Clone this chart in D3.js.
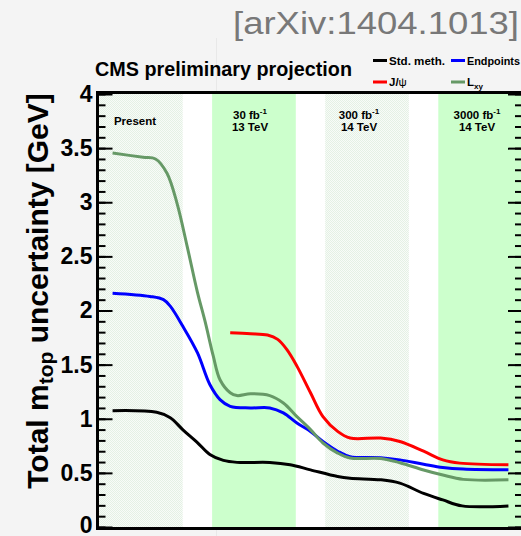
<!DOCTYPE html>
<html>
<head>
<meta charset="utf-8">
<script src="https://cdn.jsdelivr.net/npm/d3@7/dist/d3.min.js"></script>
<style>
  html, body { margin: 0; padding: 0; background: #f4f4f4; }
  svg { display: block; }
  text { font-family: "Liberation Sans", Arial, Helvetica, sans-serif; }
</style>
</head>
<body>
<script>
// ---------------- data ----------------
// x is a "stage" coordinate: Present=0, 30 fb-1=1, 300 fb-1=2, 3000 fb-1=3
const stdMeth = [[0.12,1.075],[0.51,1.06],[0.63,1.01],[0.74,0.90],[0.87,0.78],[0.98,0.67],[1.10,0.615],[1.22,0.597],[1.51,0.596],[1.69,0.575],[1.87,0.528],[2.11,0.466],[2.22,0.45],[2.49,0.436],[2.66,0.405],[2.87,0.31],[3.04,0.25],[3.21,0.195],[3.62,0.195]];
const endpoints = [[0.12,2.16],[0.45,2.13],[0.57,2.10],[0.63,2.04],[0.74,1.856],[0.87,1.61],[0.98,1.316],[1.07,1.177],[1.16,1.115],[1.34,1.10],[1.51,1.10],[1.63,1.054],[1.75,0.96],[1.87,0.883],[1.98,0.79],[2.11,0.70],[2.22,0.65],[2.49,0.64],[2.66,0.62],[2.87,0.58],[3.04,0.55],[3.22,0.535],[3.62,0.528]];
const jpsi = [[1.16,1.795],[1.34,1.786],[1.49,1.773],[1.58,1.733],[1.66,1.64],[1.75,1.486],[1.87,1.24],[1.98,1.02],[2.11,0.883],[2.22,0.822],[2.49,0.822],[2.66,0.79],[2.87,0.70],[3.04,0.62],[3.19,0.59],[3.62,0.575]];
const lxy = [[0.12,3.455],[0.39,3.415],[0.50,3.40],[0.60,3.27],[0.69,2.99],[0.78,2.59],[0.87,2.17],[0.94,1.89],[1.01,1.58],[1.07,1.36],[1.16,1.24],[1.22,1.214],[1.34,1.23],[1.51,1.214],[1.63,1.146],[1.75,1.02],[1.87,0.90],[1.98,0.776],[2.11,0.683],[2.22,0.637],[2.49,0.633],[2.66,0.594],[2.87,0.527],[3.04,0.48],[3.22,0.44],[3.62,0.436]];

const seriesNames = ["Std. meth.", "Endpoints", "J/\u03c8", "Lxy"];
const seriesColors = ["#000000", "#0000ff", "#ff0000", "#669966"];

const bandStarts = [0, 1, 2, 3];
const bandWidth = 0.74;
const bandKinds = ["pale", "green", "pale", "green"];
const bandLine1 = ["Present", "30 fb", "300 fb", "3000 fb"];
const bandSup = ["", "-1", "-1", "-1"];
const bandLine2 = ["", "13 TeV", "14 TeV", "14 TeV"];

const yMajorTicks = [0, 0.5, 1, 1.5, 2, 2.5, 3, 3.5, 4];
const yTickLabels = ["0", "0.5", "1", "1.5", "2", "2.5", "3", "3.5", "4"];

// ---------------- layout ----------------
const W = 521, H = 536;
const L = 99, R = 522, T = 94, B = 527;

const svg = d3.select("body").append("svg").attr("width", W).attr("height", H);
svg.append("rect").attr("width", W).attr("height", H).attr("fill", "#f4f4f4");

const defs = svg.append("defs");
const pat = defs.append("pattern").attr("id", "pale").attr("patternUnits", "userSpaceOnUse")
  .attr("width", 2).attr("height", 2);
pat.append("rect").attr("width", 2).attr("height", 2).attr("fill", "#f8fbf8");
pat.append("rect").attr("x", 0).attr("y", 0).attr("width", 1).attr("height", 1).attr("fill", "#e4f1e4");
pat.append("rect").attr("x", 1).attr("y", 1).attr("width", 1).attr("height", 1).attr("fill", "#e4f1e4");

const x = d3.scaleLinear().domain([0, 3.74]).range([L, R]);
const y = d3.scaleLinear().domain([0, 4]).range([B, T]);

// faint artifact line outside plot
svg.append("line").attr("x1", 216.5).attr("x2", 216.5).attr("y1", 38).attr("y2", 91).attr("stroke", "#e8e8e8");
svg.append("line").attr("x1", 216.5).attr("x2", 216.5).attr("y1", 530).attr("y2", 536).attr("stroke", "#e8e8e8");

// plot background
svg.append("rect").attr("x", L).attr("y", 92).attr("width", R - L).attr("height", B - 92 + 1).attr("fill", "#ffffff");

// bands
svg.append("g").selectAll("rect").data(bandStarts).join("rect")
  .attr("x", d => x(d))
  .attr("y", 92)
  .attr("width", d => x(d + bandWidth) - x(d))
  .attr("height", B - 92 + 1)
  .attr("fill", (d, i) => bandKinds[i] === "green" ? "#ccffcc" : "url(#pale)");

// band labels
const labelCenters = [135, 250, 359, 477];
const lab = svg.append("g").attr("font-weight", "bold").attr("font-size", 11.5).attr("text-anchor", "middle");
bandStarts.forEach((d, i) => {
  if (bandLine2[i] === "") {
    lab.append("text").attr("x", labelCenters[i]).attr("y", 124.5).text(bandLine1[i]);
  } else {
    const t = lab.append("text").attr("x", labelCenters[i]).attr("y", 119);
    t.append("tspan").text(bandLine1[i]);
    t.append("tspan").attr("font-size", 8).attr("dy", -5).text(bandSup[i]);
    lab.append("text").attr("x", labelCenters[i]).attr("y", 131).text(bandLine2[i]);
  }
});

// curves
const line = d3.line().x(d => x(d[0])).y(d => y(d[1])).curve(d3.curveCatmullRom.alpha(0.5));
const allSeries = [stdMeth, endpoints, jpsi, lxy];
const drawOrder = [0, 2, 1, 3];
drawOrder.forEach(i => {
  svg.append("path").datum(allSeries[i]).attr("d", line)
    .attr("fill", "none").attr("stroke", seriesColors[i]).attr("stroke-width", 3)
    .attr("stroke-linejoin", "round");
});

// axes
const gL = svg.append("g").attr("transform", `translate(${L - 0.5},0)`)
  .call(d3.axisLeft(y).tickValues(yMajorTicks).tickFormat((d, i) => yTickLabels[i]).tickSize(-14).tickPadding(6));
const gLm = svg.append("g").attr("transform", `translate(${L - 0.5},0)`)
  .call(d3.axisLeft(y).ticks(40).tickFormat("").tickSize(-7));
const gR = svg.append("g").attr("transform", `translate(${R},0)`)
  .call(d3.axisRight(y).tickValues(yMajorTicks).tickFormat("").tickSize(-14));
const gRm = svg.append("g").attr("transform", `translate(${R},0)`)
  .call(d3.axisRight(y).ticks(40).tickFormat("").tickSize(-7));
[gL, gLm, gR, gRm].forEach(g => {
  g.select(".domain").remove();
  g.selectAll(".tick line").attr("stroke", "#000").attr("stroke-width", 2);
});
gL.selectAll(".tick text").attr("font-size", 23).attr("font-weight", "bold").attr("fill", "#000")
  .attr("font-family", "'Liberation Sans', Arial, sans-serif");
gL.selectAll(".tick").filter(d => d === 0).select("text").attr("dy", "0.22em");

// frame
svg.append("line").attr("x1", L - 1.5).attr("x2", L - 1.5).attr("y1", 91).attr("y2", 530).attr("stroke", "#000").attr("stroke-width", 3);
svg.append("line").attr("x1", L - 3).attr("x2", W).attr("y1", 92.5).attr("y2", 92.5).attr("stroke", "#000").attr("stroke-width", 3);
svg.append("line").attr("x1", L - 3).attr("x2", W).attr("y1", 528.5).attr("y2", 528.5).attr("stroke", "#000").attr("stroke-width", 3);

// y title
const yt = svg.append("text").attr("transform", "translate(48,291) rotate(-90)")
  .attr("text-anchor", "middle").attr("font-weight", "bold").attr("font-size", 30).attr("fill", "#000");
yt.append("tspan").text("Total m");
yt.append("tspan").attr("font-size", 21).attr("dy", 5).text("top");
yt.append("tspan").attr("dy", -5).text(" uncertainty [GeV]");

// titles
svg.append("text").attr("x", 233).attr("y", 34).attr("font-size", 31).attr("fill", "#787878")
  .attr("textLength", 286).attr("lengthAdjust", "spacingAndGlyphs").text("[arXiv:1404.1013]");
svg.append("text").attr("x", 95).attr("y", 76).attr("font-size", 19.5).attr("font-weight", "bold")
  .attr("textLength", 257).attr("lengthAdjust", "spacingAndGlyphs").text("CMS preliminary projection");

// legend
const legPos = [[373, 60.5], [451, 60.5], [373, 82], [451, 82]];
const legLen = [56, 53, 0, 0];
const leg = svg.append("g");
seriesNames.forEach((name, i) => {
  const [lx, ly] = legPos[i];
  leg.append("line").attr("x1", lx).attr("x2", lx + 14).attr("y1", ly).attr("y2", ly)
    .attr("stroke", seriesColors[i]).attr("stroke-width", 3);
  const t = leg.append("text").attr("x", lx + 16).attr("y", ly + 4).attr("font-size", 11.5).attr("font-weight", "bold");
  if (name === "Lxy") {
    t.append("tspan").text("L");
    t.append("tspan").attr("font-size", 8).attr("dy", 3).text("xy");
  } else if (name.startsWith("J/")) {
    t.append("tspan").text("J/");
    t.append("tspan").attr("font-weight", "normal").text("\u03c8");
  } else {
    t.attr("textLength", legLen[i]).attr("lengthAdjust", "spacingAndGlyphs").text(name);
  }
});
</script>
</body>
</html>
